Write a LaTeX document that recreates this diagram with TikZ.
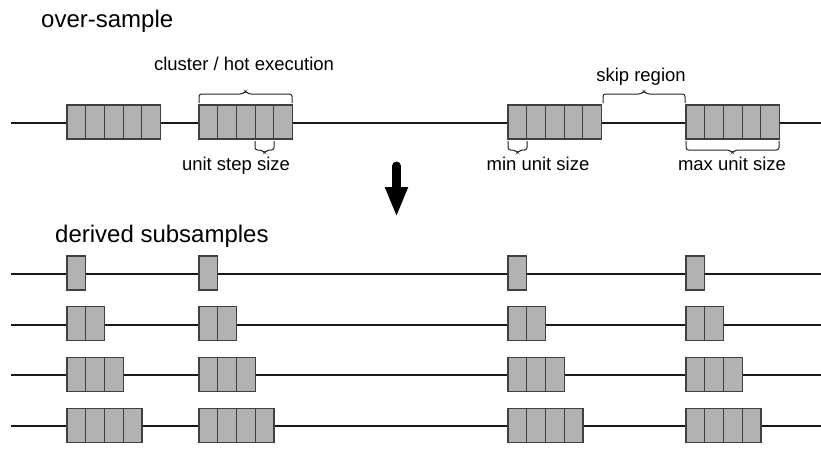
\documentclass[tikz,border=0pt]{standalone}
\usepackage{fontspec}
\setmainfont{Liberation Sans}
\usetikzlibrary{arrows.meta}

% curly bracket drawn as a rounded bracket with a small centre tip
% #1 left x, #2 right x, #3 y of the leg ends, #4 direction (-1 up, +1 down)
\newcommand\clusterbrace[4]{%
  \pgfmathsetmacro\bmid{(#1+#2)/2}%
  \draw[bracket] (#1,#3) -- (#1,{#3+(#4)*9}) -- ({\bmid-3},{#3+(#4)*9})
    -- (\bmid,{#3+(#4)*12}) -- ({\bmid+3},{#3+(#4)*9}) -- (#2,{#3+(#4)*9}) -- (#2,#3);
}

\begin{document}
\begin{tikzpicture}[x=1pt,y=-1pt,
  track/.style={line width=2pt, draw=black!90},
  unit/.style={draw=black!75, fill=black!30, line width=1.2pt,
    minimum width=18.8pt, minimum height=34pt, inner sep=0pt, outer sep=0pt, anchor=west},
  bigtxt/.style={font=\fontsize{24}{28}\selectfont, anchor=base west, inner sep=0pt},
  smalltxt/.style={font=\fontsize{18.5}{22}\selectfont, anchor=base, inner sep=0pt},
  bracket/.style={line width=1pt, draw=black!85, rounded corners=2.5pt}]
\useasboundingbox (0,0) rectangle (821,451);

% ---- over-sample ----
\node[bigtxt] (title1) at (41,27) {over-sample};
\coordinate (tl) at (11,123);
\coordinate (tr) at (821,123);
\draw[track] (tl) -- (tr);
\foreach \cx [count=\c] in {67,199,508,686} {
  \foreach \k in {1,...,5} {
    \node[unit] (t-\c-\k) at ({\cx+(\k-1)*18.7},122) {};
  }
}

% annotations
\clusterbrace{199}{292}{103}{-1}
\node[smalltxt] (lcluster) at (244,70) {cluster / hot execution};
\clusterbrace{603}{685}{103}{-1}
\node[smalltxt] (lskip) at (641,81) {skip region};
\clusterbrace{255}{274}{141}{1}
\node[smalltxt] (lstep) at (236,170) {unit step size};
\clusterbrace{508}{527}{141}{1}
\node[smalltxt] (lmin) at (538,170) {min unit size};
\clusterbrace{686}{779}{141}{1}
\node[smalltxt] (lmax) at (732,170) {max unit size};

% ---- derivation arrow ----
\coordinate (a1) at (396.5,166);
\coordinate (a2) at (396.5,217);
\draw[line width=9pt, line cap=round, -{Triangle[length=30pt,width=21pt]}] (a1) -- (a2);

% ---- derived subsamples ----
\node[bigtxt] (title2) at (55,242) {derived subsamples};
\foreach \r in {1,...,4} {
  \pgfmathsetmacro\ry{273+(\r-1)*50.7}
  \coordinate (l-\r) at (11,\ry+1);
  \coordinate (r-\r) at (821,\ry+1);
  \draw[track] (l-\r) -- (r-\r);
  \foreach \cx [count=\c] in {67,199,508,686} {
    \foreach \k in {1,...,\r} {
      \node[unit] (s-\r-\c-\k) at ({\cx+(\k-1)*18.7},\ry) {};
    }
  }
}
\end{tikzpicture}
\end{document}
